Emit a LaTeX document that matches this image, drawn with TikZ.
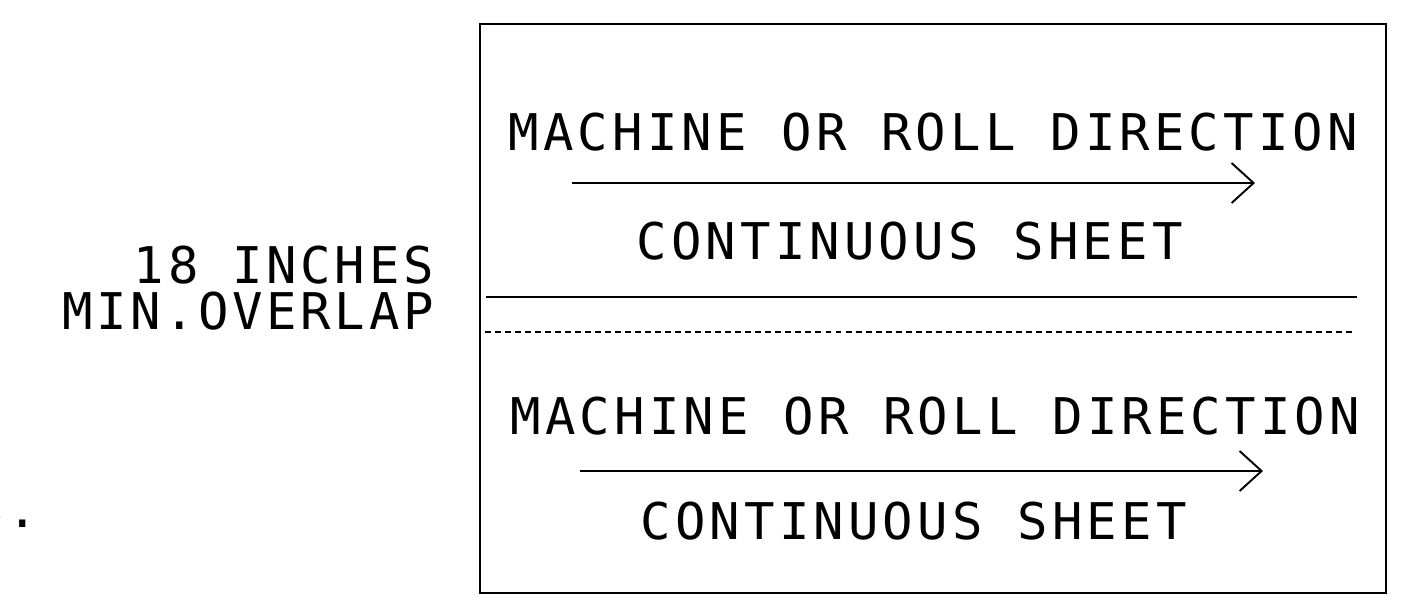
\documentclass[tikz,border=0pt]{standalone}
\usepackage{fontspec}
\newfontfamily\cadfont{DejaVu Sans Mono}[LetterSpace=8.3]
\newfontfamily\cadfontb{DejaVu Sans Mono}[LetterSpace=7.2]
\usetikzlibrary{arrows.meta}
\begin{document}
\begin{tikzpicture}[x=0.02cm,y=-0.02cm,
  lbl/.style={font=\cadfont\fontsize{28.8}{34}\selectfont, inner sep=0pt, text=black},
  note/.style={font=\cadfontb\fontsize{28.8}{34}\selectfont, inner sep=0pt, text=black},
  frame/.style={line width=1.1pt, draw=black},
  sep/.style={line width=1pt, draw=black},
  overlap/.style={line width=0.9pt, draw=black, dash pattern=on 3.4pt off 2.3pt},
  dirarrow/.style={line width=1.1pt, draw=black, -{Straight Barb[length=0.44cm,width=0.8cm]}}]
\useasboundingbox (0,0) rectangle (1405,613);
\clip (0,0) rectangle (1405,613);
% frame
\draw[frame] (480,24) rectangle (1386,593);
% upper sheet
\node[lbl, anchor=base west] (m1) at (508,150) {MACHINE OR ROLL DIRECTION};
\coordinate (a1s) at (572,183);
\coordinate (a1e) at (1255,183);
\draw[dirarrow] (a1s) -- (a1e);
\node[lbl, anchor=base west] (c1) at (636,259) {CONTINUOUS SHEET};
% edge lines
\coordinate (l1s) at (486,297);
\coordinate (l1e) at (1357,297);
\draw[sep] (l1s) -- (l1e);
\coordinate (l2s) at (485,332);
\coordinate (l2e) at (1356,332);
\draw[overlap] (l2s) -- (l2e);
% lower sheet
\node[lbl, anchor=base west] (m2) at (510,434) {MACHINE OR ROLL DIRECTION};
\coordinate (a2s) at (580,471);
\coordinate (a2e) at (1263,471);
\draw[dirarrow] (a2s) -- (a2e);
\node[lbl, anchor=base west] (c2) at (640,539) {CONTINUOUS SHEET};
% left notes
\node[note, anchor=base east] (n1) at (434,283) {18 INCHES};
\node[note, anchor=base east] (n2) at (434,329) {MIN.OVERLAP};
\node[note, anchor=base east] (n3) at (38,527) {S.};
\end{tikzpicture}
\end{document}
